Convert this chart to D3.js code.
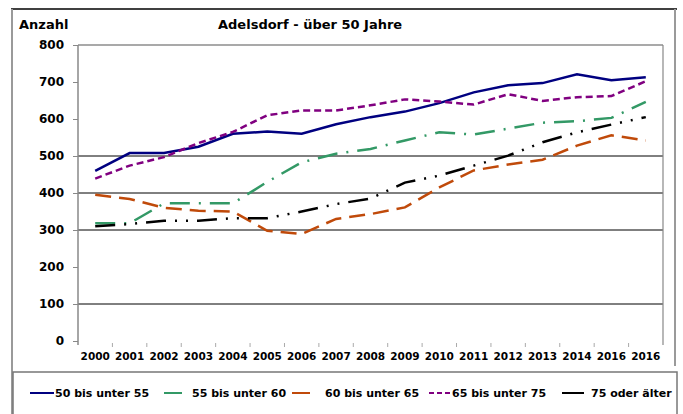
<!DOCTYPE html>
<html>
<head>
<meta charset="utf-8">
<script src="https://cdn.jsdelivr.net/npm/d3@7"></script>
<style>
  body { margin: 0; background: #fff; }
  text { font-family: "DejaVu Sans", sans-serif; font-weight: bold; fill: #000; }
</style>
</head>
<body>
<div id="chart"></div>
<script>
// Categories (the source repeats "2016" for 2015).
const years = ["2000", "2001", "2002", "2003", "2004", "2005", "2006", "2007", "2008",
               "2009", "2010", "2011", "2012", "2013", "2014", "2016", "2016"];

// Series values.
const age50to55 = [460, 508, 508, 525, 560, 566, 560, 586, 605, 620, 643, 672, 691, 697, 721, 705, 713];
const age55to60 = [318, 318, 372, 372, 372, 430, 483, 506, 519, 542, 564, 558, 574, 590, 594, 603, 646];
const age60to65 = [395, 384, 360, 352, 350, 298, 289, 330, 343, 361, 415, 461, 477, 490, 528, 556, 542];
const age65to75 = [439, 474, 497, 535, 565, 610, 623, 623, 637, 653, 647, 639, 667, 649, 659, 662, 702];
const age75plus = [310, 316, 325, 325, 332, 332, 350, 370, 385, 428, 447, 474, 501, 537, 564, 585, 605];

const seriesNames = ["50 bis unter 55", "55 bis unter 60", "60 bis unter 65", "65 bis unter 75", "75 oder älter"];
const yTicks = [0, 100, 200, 300, 400, 500, 600, 700, 800];
const gridValues = [100, 300, 400, 500];

function drawChart() {

    const width = 683, height = 414;
    const plot = { left: 78, right: 663, top: 45, bottom: 341 };

    const svg = d3.select("#chart")
        .append("svg")
        .attr("width", width)
        .attr("height", height);

    // Outer frame of the picture.
    svg.append("line").attr("x1", 11).attr("x2", 677).attr("y1", 9).attr("y2", 9)
        .attr("stroke", "#000").attr("stroke-width", 1.5);
    svg.append("line").attr("x1", 12).attr("x2", 12).attr("y1", 9).attr("y2", 414)
        .attr("stroke", "#9a9a9a").attr("stroke-width", 2);
    svg.append("line").attr("x1", 675).attr("x2", 675).attr("y1", 9).attr("y2", 366)
        .attr("stroke", "#9a9a9a").attr("stroke-width", 2);

    // Scales: categories sit in the middle of their band.
    const x = d3.scaleBand()
        .domain(d3.range(years.length))
        .range([plot.left, plot.right]);
    const y = d3.scaleLinear()
        .domain([0, 800])
        .range([plot.bottom, plot.top]);
    const cx = i => x(i) + x.bandwidth() / 2;

    // Gridlines.
    svg.selectAll(".grid")
        .data(gridValues)
        .enter()
        .append("line")
        .attr("x1", plot.left).attr("x2", plot.right)
        .attr("y1", d => y(d)).attr("y2", d => y(d))
        .attr("stroke", "#000").attr("stroke-width", 1);

    // Plot area border (top and right).
    svg.append("line").attr("x1", plot.left).attr("x2", plot.right)
        .attr("y1", plot.top).attr("y2", plot.top)
        .attr("stroke", "#555").attr("stroke-width", 1.2);
    svg.append("line").attr("x1", plot.right).attr("x2", plot.right)
        .attr("y1", plot.top).attr("y2", plot.bottom + 4)
        .attr("stroke", "#888").attr("stroke-width", 1.2);

    // Y axis.
    const yAxis = svg.append("g")
        .attr("transform", `translate(${plot.left},0)`)
        .call(d3.axisLeft(y).tickValues(yTicks).tickSize(5).tickPadding(9));
    yAxis.select(".domain").attr("stroke", "#888").attr("stroke-width", 1.5)
        .attr("d", `M0,${plot.top}V${plot.bottom + 4}`);
    yAxis.selectAll(".tick line").attr("stroke", "#888");
    yAxis.selectAll(".tick text").style("font-size", "12px").attr("fill", "#000");

    // X axis: ticks between categories, labels centred.
    const xAxis = svg.append("g")
        .attr("transform", `translate(0,${plot.bottom + 1})`);
    xAxis.selectAll(".xtick")
        .data(d3.range(1, years.length))
        .enter()
        .append("line")
        .attr("x1", d => x(d)).attr("x2", d => x(d))
        .attr("y1", 1).attr("y2", 5)
        .attr("stroke", "#aaa");
    xAxis.selectAll(".xlabel")
        .data(years)
        .enter()
        .append("text")
        .attr("x", (d, i) => cx(i))
        .attr("y", 18)
        .attr("text-anchor", "middle")
        .style("font-size", "10.5px")
        .text(d => d);

    // Titles.
    svg.append("text").attr("x", 19).attr("y", 29).style("font-size", "13px").text("Anzahl");
    svg.append("text").attr("x", 218).attr("y", 29).style("font-size", "13px").text("Adelsdorf - über 50 Jahre");

    // Series lines.
    const series = [
        { values: age50to55, color: "#000080", dash: null, legendDash: null },
        { values: age55to60, color: "#339966", dash: "20,9,2,9", legendDash: null },
        { values: age60to65, color: "#c04a0a", dash: "16,8", legendDash: null },
        { values: age65to75, color: "#800080", dash: "7,4", legendDash: "5,3" },
        { values: age75plus, color: "#000000", dash: "20,9,2,9,2,9", legendDash: null }
    ];

    const line = d3.line()
        .x((d, i) => cx(i))
        .y(d => y(d));

    svg.selectAll(".series")
        .data(series)
        .enter()
        .append("path")
        .attr("d", d => line(d.values))
        .attr("fill", "none")
        .attr("stroke", d => d.color)
        .attr("stroke-width", 2.5)
        .attr("stroke-dasharray", d => d.dash);

    // Legend box.
    svg.append("rect")
        .attr("x", 13).attr("y", 372).attr("width", 664).attr("height", 60)
        .attr("fill", "#fff").attr("stroke", "#777").attr("stroke-width", 1.5);

    const legendX = [30, 164, 292, 429, 562];
    const legendSample = [24, 18, 18, 22, 22];
    const legendGap = [1, 10, 15, 1, 7];

    const item = svg.selectAll(".legend")
        .data(series)
        .enter()
        .append("g")
        .attr("transform", (d, i) => `translate(${legendX[i]},393)`);
    item.append("line")
        .attr("x1", 0).attr("x2", (d, i) => legendSample[i])
        .attr("stroke", d => d.color)
        .attr("stroke-width", 2)
        .attr("stroke-dasharray", d => d.legendDash);
    item.append("text")
        .attr("x", (d, i) => legendSample[i] + legendGap[i])
        .attr("y", 4)
        .style("font-size", "11px")
        .text((d, i) => seriesNames[i]);
}

drawChart();
</script>
</body>
</html>
